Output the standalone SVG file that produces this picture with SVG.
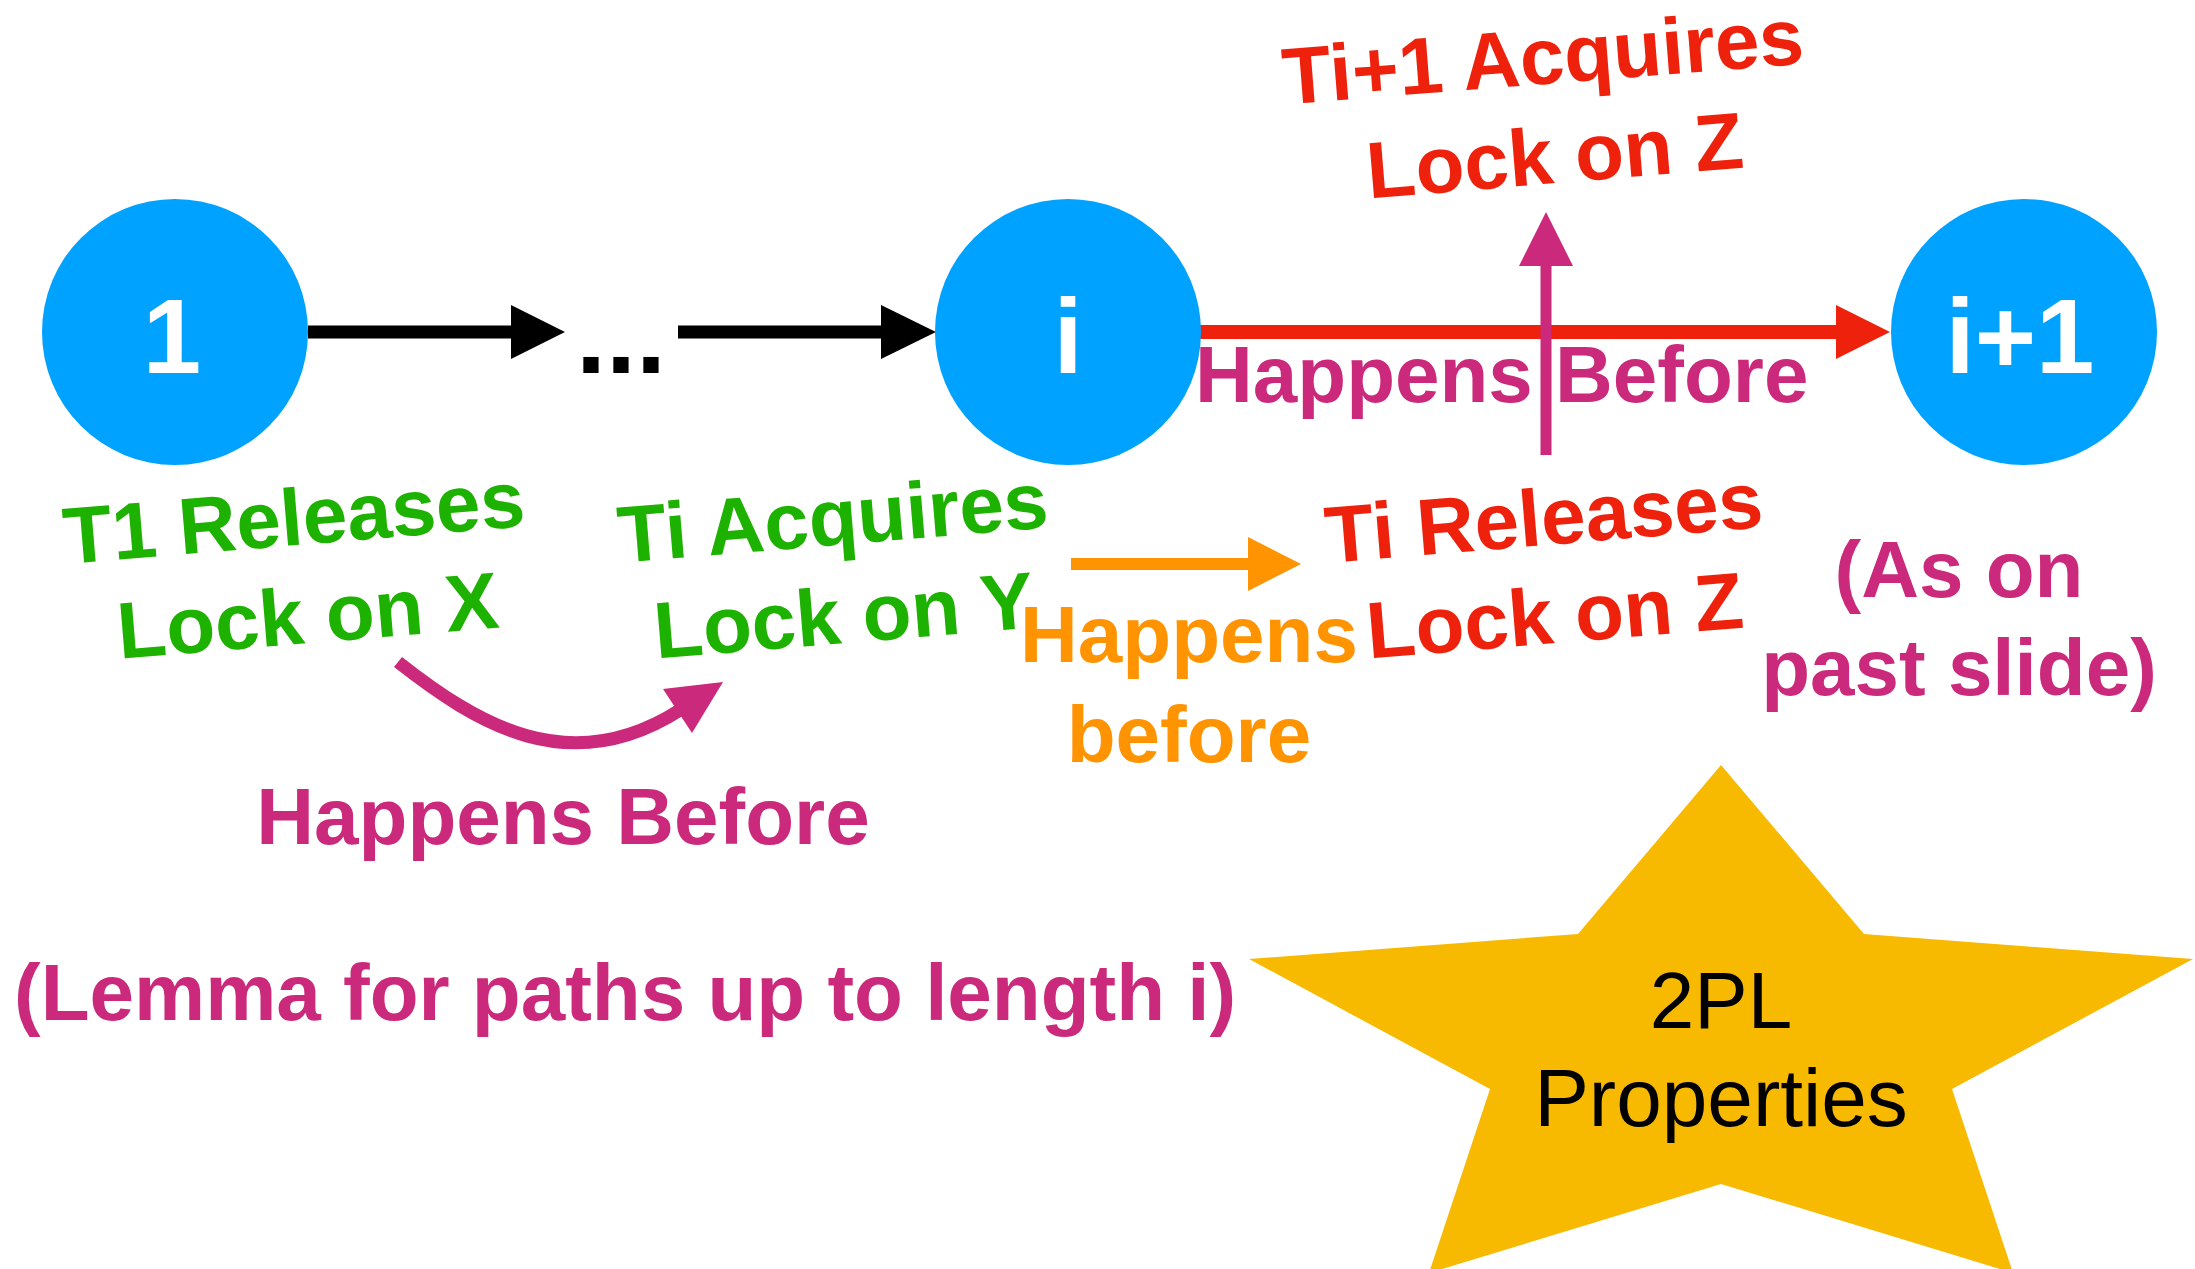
<svg xmlns="http://www.w3.org/2000/svg" width="2195" height="1269" viewBox="0 0 2195 1269">
<style>
.t{font-family:"Liberation Sans",Arial,Helvetica,sans-serif;font-weight:bold;font-size:80px}
.n{font-family:"Liberation Sans",Arial,Helvetica,sans-serif;font-weight:bold;font-size:105px;fill:#fff;text-anchor:middle}
.g{fill:#1DB100}.r{fill:#EE220C}.m{fill:#CB297B}.o{fill:#FF9300}
.c{fill:#00A2FF}
</style>
<rect width="2195" height="1269" fill="#fff"/>
<g id="star">
<polygon points="1721,765 1864,934 2193,959 1952,1089 2013,1273 1721,1184 1429,1273 1490,1089 1249,959 1578,934" fill="#F8BA00"/>
<text x="1721" y="1028" text-anchor="middle" style="font-family:'Liberation Sans',Arial,sans-serif;font-size:80px" fill="#000">2PL</text>
<text x="1721" y="1126" text-anchor="middle" style="font-family:'Liberation Sans',Arial,sans-serif;font-size:82px" fill="#000">Properties</text>
</g>
<g id="connectors">
<line x1="308" y1="332" x2="513" y2="332" stroke="#000" stroke-width="13"/>
<polygon points="511,305 565,332 511,359" fill="#000"/>
<line x1="678" y1="332" x2="883" y2="332" stroke="#000" stroke-width="13"/>
<polygon points="881,305 936,332 881,359" fill="#000"/>
<line x1="1200" y1="332" x2="1838" y2="332" stroke="#EE220C" stroke-width="14"/>
<polygon points="1836,305 1890,332 1836,359" fill="#EE220C"/>
<line x1="1546" y1="455" x2="1546" y2="262" stroke="#CB297B" stroke-width="11"/>
<polygon points="1546,212 1573,266 1519,266" fill="#CB297B"/>
<line x1="1071" y1="564" x2="1250" y2="564" stroke="#FF9300" stroke-width="12"/>
<polygon points="1248,537 1301,564 1248,591" fill="#FF9300"/>
<path d="M398,662 C477,724 569,781 680,710" fill="none" stroke="#CB297B" stroke-width="13"/>
<polygon points="723,682 663,689 692,733" fill="#CB297B"/>
</g>
<g id="node1"><circle cx="175" cy="332" r="133" class="c"/><text x="172" y="373" class="n">1</text></g>
<g id="nodei"><circle cx="1068" cy="332" r="133" class="c"/><text x="1068" y="373" class="n">i</text></g>
<g id="nodei1"><circle cx="2024" cy="332" r="133" class="c"/><text x="2020" y="373" class="n">i+1</text></g>
<g id="dots"><text x="576" y="373" style="font-family:'Liberation Sans',Arial,sans-serif;font-weight:bold;font-size:108px" fill="#000">...</text></g>
<g id="labels" class="t">
<text x="296" y="545" text-anchor="middle" class="g" transform="rotate(-4.7 296 545)">T1 Releases</text>
<text x="310" y="643" text-anchor="middle" class="g" transform="rotate(-4.7 310 643)">Lock on X</text>
<text x="835" y="545" text-anchor="middle" class="g" transform="rotate(-4.7 835 545)">Ti Acquires</text>
<text x="846" y="643" text-anchor="middle" class="g" transform="rotate(-4.7 846 643)">Lock on Y</text>
<text x="1546" y="545" text-anchor="middle" class="r" transform="rotate(-4.7 1546 545)">Ti Releases</text>
<text x="1557" y="643" text-anchor="middle" class="r" transform="rotate(-4.7 1557 643)">Lock on Z</text>
<text x="1545" y="84" text-anchor="middle" class="r" transform="rotate(-4.5 1545 84)">Ti+1 Acquires</text>
<text x="1557" y="183" text-anchor="middle" class="r" transform="rotate(-4.7 1557 183)">Lock on Z</text>
<text x="1195" y="402" class="m">Happens Before</text>
<text x="1189" y="662" text-anchor="middle" class="o">Happens</text>
<text x="1189" y="762" text-anchor="middle" class="o">before</text>
<text x="563" y="844" text-anchor="middle" class="m">Happens Before</text>
<text x="1959" y="597" text-anchor="middle" class="m">(As on</text>
<text x="1959" y="695" text-anchor="middle" class="m">past slide)</text>
<text x="14" y="1020" class="m">(Lemma for paths up to length i)</text>
</g>
</svg>
